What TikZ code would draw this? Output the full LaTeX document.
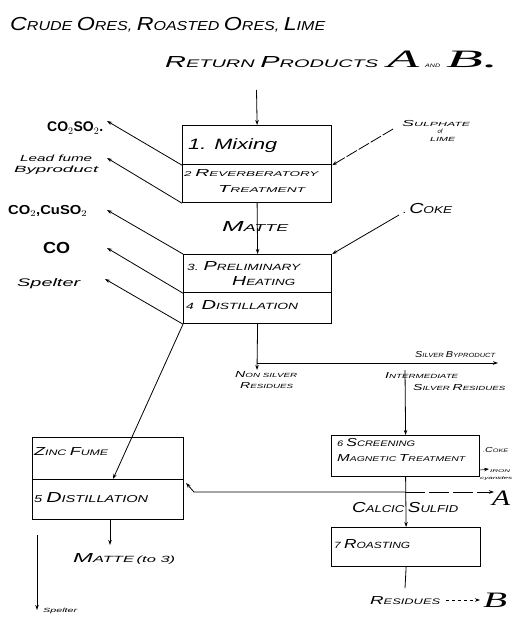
\documentclass[tikz,border=0pt]{standalone}
\usepackage{fontspec}
\usepackage{graphicx}
\setmainfont{Liberation Sans}
\newfontfamily\scrfont{Liberation Serif}
\usetikzlibrary{arrows.meta}
\newcommand\bc[1]{\scalebox{1.45}{#1}}
\newcommand\fs[1]{\fontsize{#1}{#1}\selectfont}
\newcommand\fw[2]{\resizebox{#1pt}{\height}{#2}}
\tikzset{
  box/.style={draw, line width=1.2pt, anchor=north west, inner sep=0pt},
  lbl/.style={font=\itshape\fs{8}, inner sep=0pt, anchor=base west},
  arr/.style={-{Stealth[length=5pt,width=3.5pt]}, line width=0.8pt},
  ln/.style={line width=0.8pt}
}
\begin{document}
\begin{tikzpicture}[x=1pt,y=-1pt]
\fill[white] (0,0) rectangle (513,617);
\useasboundingbox (0,0) rectangle (513,617);
% boxes
\node[box, minimum width=149pt, minimum height=39pt] (b1) at (182,125) {};
\node[box, minimum width=149pt, minimum height=38pt] (b2) at (182,164) {};
\node[box, minimum width=148pt, minimum height=38pt] (b3) at (183,254) {};
\node[box, minimum width=148pt, minimum height=31pt] (b4) at (183,292) {};
\node[box, minimum width=151pt, minimum height=42pt] (b5a) at (32,437) {};
\node[box, minimum width=151pt, minimum height=40pt] (b5b) at (32,479) {};
\node[box, minimum width=148pt, minimum height=41pt] (b6) at (331,435) {};
\node[box, minimum width=149pt, minimum height=39pt] (b7) at (331,527) {};
% titles
\node[lbl, font=\itshape\fs{13}] (t1) at (10,31) {\fw{315}{\bc{C}RUDE \bc{O}RES, \bc{R}OASTED \bc{O}RES, \bc{L}IME}};
\node[lbl, font=\itshape\fs{11}] (t2) at (165,68) {\fw{213}{\bc{R}ETURN \bc{P}RODUCTS}};
\node[lbl, font=\scrfont\itshape\fs{25}] (tA) at (387,68) {\fw{32}{A}};
\node[lbl, font=\itshape\fs{5}] (tand) at (425,68) {\fw{15}{AND}};
\node[lbl, font=\scrfont\itshape\fs{25}] (tB) at (446,68) {\fw{52}{B.}};
% box texts
\node[lbl, font=\itshape\fs{15}] (x1) at (188,150) {\fw{89}{1. Mixing}};
\node[lbl, font=\itshape\fs{7}] (x2a) at (184,177) {\fw{134}{2 \bc{R}EVERBERATORY}};
\node[lbl, font=\itshape\fs{7}] (x2b) at (218,193) {\fw{87}{\bc{T}REATMENT}};
\node[lbl, font=\itshape\fs{9}] (x3) at (187,270) {\fw{113}{3. \bc{P}RELIMINARY}};
\node[lbl, font=\itshape\fs{9}] (x3b) at (232,285) {\fw{63}{\bc{H}EATING}};
\node[lbl, font=\itshape\fs{9}] (x4) at (186,309) {\fw{112}{4\ \ \bc{D}ISTILLATION}};
\node[lbl, font=\itshape\fs{8}] (x5a) at (34,455) {\fw{74}{\bc{Z}INC \bc{F}UME}};
\node[lbl, font=\itshape\fs{10}] (x5b) at (34,502) {\fw{114}{5 \bc{D}ISTILLATION}};
\node[lbl, font=\itshape\fs{8}] (x6a) at (337,446) {\fw{78}{6 \bc{S}CREENING}};
\node[lbl, font=\itshape\fs{7}] (x6b) at (337,461) {\fw{128}{\bc{M}AGNETIC \bc{T}REATMENT}};
\node[lbl, font=\itshape\fs{9}] (x7) at (334,548) {\fw{76}{7 \bc{R}OASTING}};
% left labels
\node[lbl, font=\bfseries\fs{14}] (co2so2) at (47,132) {\fw{56}{CO$_2$SO$_2$.}};
\node[lbl, font=\itshape\fs{9}] (lead1) at (20,162) {\fw{72}{Lead fume}};
\node[lbl, font=\itshape\fs{9}] (lead2) at (14,173) {\fw{84}{Byproduct}};
\node[lbl, font=\bfseries\fs{13}] (cocuso) at (8,215) {\fw{79}{CO$_2$,CuSO$_2$}};
\node[lbl, font=\bfseries\fs{16}] (co) at (43,253) {\fw{27}{CO}};
\node[lbl, font=\itshape\fs{11}] (spel) at (17,286) {\fw{63}{Spelter}};
% right labels
\node[lbl, font=\itshape\fs{6}] (sulph1) at (402,127) {\fw{68}{\bc{S}ULPHATE}};
\node[lbl, font=\itshape\fs{6}, anchor=base] (sulph2) at (440,134) {of};
\node[lbl, font=\itshape\fs{6}] (sulph3) at (430,142) {\fw{25}{LIME}};
\node[lbl, font=\itshape\fs{10}] (coke) at (403,214) {\fw{49}{.\,\bc{C}OKE}};
\node[lbl, font=\itshape\fs{10}] (matte) at (222,232) {\fw{66}{\bc{M}ATTE}};
\node[lbl, font=\itshape\fs{6}] (silv) at (415,357) {\fw{80}{\bc{S}ILVER \bc{B}YPRODUCT}};
\node[lbl, font=\itshape\fs{6}] (nonsilv1) at (235,377) {\fw{62}{\bc{N}ON SILVER}};
\node[lbl, font=\itshape\fs{6}] (nonsilv2) at (240,388) {\fw{53}{\bc{R}ESIDUES}};
\node[lbl, font=\itshape\fs{6}] (inter1) at (385,378) {\fw{73}{\bc{I}NTERMEDIATE}};
\node[lbl, font=\itshape\fs{6}] (inter2) at (413,390) {\fw{92}{\bc{S}ILVER \bc{R}ESIDUES}};
\node[lbl, font=\itshape\fs{5}] (coke2) at (483,452) {\fw{25}{.\bc{C}OKE}};
\node[lbl, font=\itshape\fs{4}] (iron) at (490,472) {\fw{20}{IRON}};
\node[lbl, font=\itshape\fs{4}] (cyan) at (480,479) {\fw{32}{cyanides}};
\node[lbl, font=\itshape\fs{10}] (calc) at (352,512) {\fw{106}{\bc{C}ALCIC \bc{S}ULFID}};
\node[lbl, font=\scrfont\itshape\fs{22}] (A) at (492,505) {\fw{18}{A}};
\node[lbl, font=\itshape\fs{8}] (res) at (370,604) {\fw{70}{\bc{R}ESIDUES}};
\node[lbl, font=\scrfont\itshape\fs{22}] (B) at (483,607) {\fw{24}{B}};
\node[lbl, font=\itshape\fs{9}] (matte2) at (73,562) {\fw{102}{\bc{M}ATTE\,(to 3)}};
\node[lbl, font=\itshape\fs{6}] (spel2) at (43,612) {\fw{34}{Spelter}};
% coordinates
\coordinate (in1) at (256.5,90);
\coordinate (e1) at (107,121);
\coordinate (e2) at (107,158);
\coordinate (e3) at (107,210);
\coordinate (e4) at (107,248);
\coordinate (e5) at (105,279);
\coordinate (s1) at (393,129);
\coordinate (k1) at (399,215);
\coordinate (z5) at (113,479);
\coordinate (j1) at (257,363);
\coordinate (j1e) at (257,370);
\coordinate (sb) at (498,363);
\coordinate (ir) at (405,370);
\coordinate (j2) at (405,492);
\coordinate (j3) at (194,492);
\coordinate (b5in) at (186,483);
\coordinate (ae) at (494,492);
\coordinate (r7) at (405,588);
\coordinate (m5) at (110,545);
\coordinate (sp1) at (37,535);
\coordinate (sp2) at (37,610);
\coordinate (rb1) at (446,600);
\coordinate (rb2) at (480,600);
\coordinate (ir1) at (480,470);
\coordinate (ir2) at (489,469);
% connectors
\draw[arr] (in1) -- (b1.north);
\draw[arr] (b1.south west) -- (e1);
\draw[arr] (b2.south west) -- (e2);
\draw[arr, dash pattern=on 12pt off 2pt] (s1) -- (b1.south east);
\draw[arr] (b2.south) -- (b3.north);
\draw[arr] (b3.north west) -- (e3);
\draw[arr] (b3.south west) -- (e4);
\draw[arr] (b4.south west) -- (e5);
\draw[arr] (k1) -- (b3.north east);
\draw[arr] (b4.south west) -- (z5);
\draw[arr] (b4.south) -- (j1e);
\draw[arr] (j1) -- (sb);
\draw[arr] (ir) -- (b6.north);
\draw[arr] (b6.south) -- (b7.north);
\draw[arr] (j2) -- (j3) -- (b5in);
\draw[arr, dash pattern=on 20pt off 4pt] (j2) -- (ae);
\draw[ln] (b7.south) -- (r7);
\draw[arr] (b5b.south -| m5) -- (m5);
\draw[arr] (sp1) -- (sp2);
\draw[arr, dashed] (rb1) -- (rb2);
\draw[arr, line width=0.5pt] (ir1) -- (ir2);
\end{tikzpicture}
\end{document}
